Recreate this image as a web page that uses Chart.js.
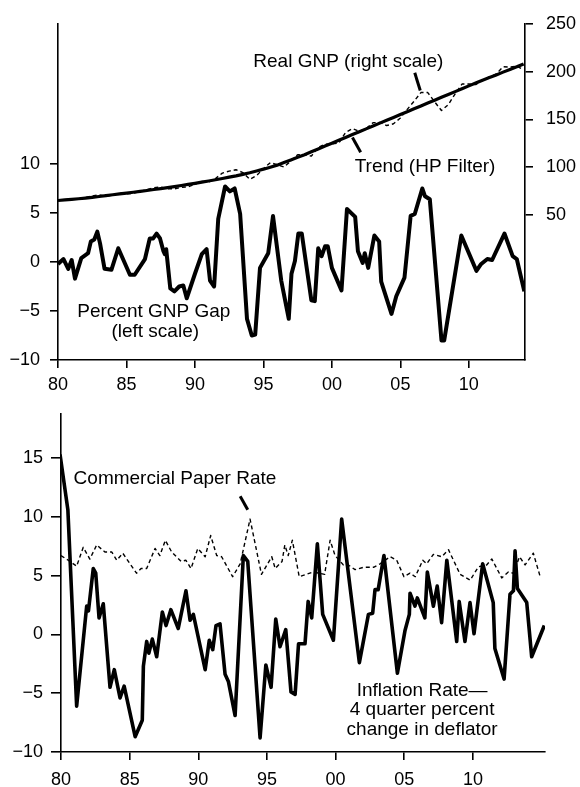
<!DOCTYPE html>
<html>
<head>
<meta charset="utf-8">
<script src="https://cdn.jsdelivr.net/npm/chart.js@4.4.0/dist/chart.umd.min.js"></script>
<style>
  body { margin: 0; background: #fff; width: 580px; height: 787px; overflow: hidden; position: relative; }
  canvas { position: absolute; left: 0; }
  #topChart { top: 0; }
  #bottomChart { top: 395px; }
</style>
</head>
<body>
<canvas id="topChart" width="580" height="395"></canvas>
<canvas id="bottomChart" width="580" height="392"></canvas>
<script>
// ---- data ----
const xTickYears = [1980, 1985, 1990, 1995, 2000, 2005, 2010];
const gapTicks = [-10, -5, 0, 5, 10];
const gnpTicks = [50, 100, 150, 200, 250];
const rateTicks = [-10, -5, 0, 5, 10, 15];

// percent GNP gap (left scale)
const gapYears = [1980.0, 1980.4, 1980.75, 1981.0, 1981.24, 1981.7, 1982.2, 1982.4, 1982.65, 1982.87,
  1983.07, 1983.4, 1983.9, 1984.4, 1985.25, 1985.6, 1986.35, 1986.7, 1986.95, 1987.2,
  1987.45, 1987.7, 1987.8, 1987.9, 1988.2, 1988.5, 1988.85, 1989.15, 1989.4, 1990.0,
  1990.5, 1990.85, 1991.1, 1991.4, 1991.7, 1992.2, 1992.55, 1992.9, 1993.3, 1993.8,
  1994.15, 1994.4, 1994.75, 1995.35, 1995.7, 1996.3, 1996.85, 1997.05, 1997.3, 1997.55,
  1997.8, 1998.5, 1998.75, 1999.0, 1999.25, 1999.5, 1999.7, 2000.0, 2000.7, 2001.1,
  2001.7, 2001.9, 2002.25, 2002.4, 2002.65, 2003.1, 2003.45, 2003.6, 2004.35, 2004.7,
  2005.3, 2005.75, 2006.05, 2006.6, 2006.8, 2007.15, 2008.0, 2008.2, 2009.45, 2010.55,
  2010.9, 2011.35, 2011.7, 2012.6, 2013.2, 2013.5, 2014.05];
const gapValues = [-0.2, 0.3, -0.7, 0.2, -1.7, 0.4, 0.9, 2.1, 2.3, 3.1,
  1.9, -0.7, -0.8, 1.4, -1.3, -1.3, 0.3, 2.4, 2.4, 2.9,
  2.4, 1.1, 0.8, 1.3, -2.7, -3.0, -2.5, -2.4, -3.7, -1.2,
  0.8, 1.3, -1.9, -2.5, 4.4, 7.7, 7.2, 7.5, 4.9, -5.8,
  -7.5, -7.4, -0.6, 0.9, 4.7, -1.9, -5.8, -1.2, 0.1, 2.9,
  2.9, -3.9, -4.0, 1.4, 0.6, 1.6, 1.6, -0.6, -2.9, 5.4,
  4.6, 1.1, -0.1, 0.9, -0.6, 2.7, 2.1, -2.0, -5.3, -3.5,
  -1.6, 4.7, 4.9, 7.5, 6.7, 6.4, -8.0, -8.0, 2.7, -0.9,
  -0.2, 0.3, 0.2, 2.9, 0.6, 0.3, -3.0];

// real GNP and HP trend (right scale), half-year points
const gnpYears = [1980, 1980.5, 1981, 1981.5, 1982, 1982.5, 1983, 1983.5, 1984, 1984.5,
  1985, 1985.5, 1986, 1986.5, 1987, 1987.5, 1988, 1988.5, 1989, 1989.5,
  1990, 1990.5, 1991, 1991.5, 1992, 1992.5, 1993, 1993.5, 1994, 1994.5,
  1995, 1995.5, 1996, 1996.5, 1997, 1997.5, 1998, 1998.5, 1999, 1999.5,
  2000, 2000.5, 2001, 2001.5, 2002, 2002.5, 2003, 2003.5, 2004, 2004.5,
  2005, 2005.5, 2006, 2006.5, 2007, 2007.5, 2008, 2008.5, 2009, 2009.5,
  2010, 2010.5, 2011, 2011.5, 2012, 2012.5, 2013, 2013.5, 2014];
const realGnp = [64.9, 65.7, 66.2, 66.9, 68, 69.8, 70.8, 69.6, 70.6, 72.8,
  72, 72.6, 74.3, 76.6, 78.4, 79.1, 77.3, 77.2, 78.8, 79.2,
  82, 84.9, 84.4, 88, 93.7, 95.8, 97.2, 94.2, 87.2, 91.1,
  98.4, 104.6, 102.5, 100.1, 106.3, 113, 113, 111.5, 120.7, 124,
  124.3, 125, 136.2, 140.2, 137.4, 140.3, 146.4, 146.7, 143.5, 145.3,
  151.4, 160.4, 168.9, 178, 178, 168.3, 159.2, 165.4, 176.7, 186.9,
  186.9, 186.3, 191, 194.3, 197.5, 205, 204.6, 205.6, 201.8];
const trendGnp = [65, 65.6, 66.2, 66.8, 67.5, 68.3, 69.2, 70.1, 71, 71.9,
  72.7, 73.6, 74.5, 75.5, 76.5, 77.5, 78.5, 79.6, 80.7, 81.8,
  83, 84.2, 85.4, 86.7, 88, 89.4, 90.8, 92.4, 94, 95.9,
  97.8, 99.9, 102, 104.7, 107.4, 110.2, 113, 116, 119, 122,
  125, 128, 131, 134, 137, 140, 143, 146, 149, 152,
  155, 158, 161, 164, 167, 170, 173, 176, 179, 182,
  185, 188, 191, 193.7, 196.5, 199.4, 202.2, 205, 208];

// inflation rate, 4 quarter percent change in deflator
const inflYears = [1979.93, 1980.5, 1981.14, 1981.87, 1982.0, 1982.35, 1982.53, 1982.77, 1983.08, 1983.57,
  1983.88, 1984.3, 1984.6, 1985.4, 1985.92, 1986.0, 1986.24, 1986.4, 1986.65, 1986.97,
  1987.38, 1987.65, 1988.0, 1988.54, 1989.1, 1989.4, 1989.64, 1990.5, 1990.8, 1991.05,
  1991.29, 1991.58, 1991.95, 1992.19, 1992.68, 1993.28, 1993.6, 1994.5, 1994.92, 1995.3,
  1995.64, 1995.95, 1996.37, 1996.75, 1997.05, 1997.3, 1997.77, 1998.0, 1998.26, 1998.67,
  1999.06, 1999.84, 2000.44, 2001.73, 2002.39, 2002.7, 2002.87, 2003.1, 2003.52, 2004.5,
  2005.05, 2005.37, 2005.42, 2005.78, 2005.95, 2006.5, 2006.68, 2007.12, 2007.4, 2007.72,
  2008.1, 2008.82, 2009.0, 2009.42, 2009.79, 2010.08, 2010.71, 2011.48, 2011.6, 2012.27,
  2012.7, 2012.95, 2013.07, 2013.24, 2013.92, 2014.28, 2015.2];
const inflation = [15.3, 10.6, -6.1, 2.4, 2.0, 5.6, 5.2, 1.4, 2.6, -4.5,
  -3.0, -5.4, -4.4, -8.7, -7.3, -2.7, -0.6, -1.6, -0.4, -1.9,
  1.9, 0.75, 2.1, 0.5, 3.7, 1.2, 1.7, -3.0, -0.5, -1.3,
  0.75, 0.9, -3.4, -4.0, -6.9, 6.7, 6.2, -8.8, -2.6, -4.5,
  1.3, -1.05, 0.4, -4.9, -5.1, -0.8, -0.8, 2.8, 1.4, 7.7,
  1.7, -0.5, 9.8, -2.4, 1.7, 1.8, 3.8, 3.8, 6.7, -3.3,
  0.3, 1.7, 3.5, 2.4, 3.1, 1.4, 5.3, 2.4, 4.1, 1.0,
  6.3, -0.6, 2.8, -0.6, 2.7, 0.05, 6.0, 2.7, -1.2, -3.8,
  3.4, 3.7, 7.1, 3.9, 2.7, -1.9, 0.75];

// commercial paper rate
const cpYears = [1980.0, 1980.53, 1981.14, 1981.62, 1982.1, 1982.6, 1983.2, 1983.7, 1984.06, 1984.5,
  1985.5, 1985.83, 1986.24, 1986.85, 1987.2, 1987.6, 1988.06, 1988.75, 1989.1, 1989.47,
  1989.96, 1990.5, 1990.9, 1991.34, 1991.7, 1992.5, 1993.05, 1993.77, 1994.6, 1995.35,
  1995.6, 1996.1, 1996.3, 1996.55, 1996.85, 1997.35, 1998.37, 1999.2, 1999.6, 1999.96,
  2000.57, 2000.93, 2001.42, 2002.03, 2002.76, 2003.24, 2003.97, 2004.45, 2004.98, 2005.42,
  2005.8, 2006.35, 2006.64, 2007.12, 2007.73, 2008.22, 2009.07, 2009.8, 2010.4, 2011.0,
  2011.38, 2012.1, 2012.58, 2012.95, 2013.39, 2013.8, 2014.4, 2014.9];
const cpRate = [6.7, 6.3, 5.8, 7.4, 6.4, 7.6, 7.0, 7.0, 6.3, 6.9,
  5.2, 5.6, 5.6, 7.3, 6.7, 8.0, 7.0, 6.2, 6.3, 5.6,
  7.3, 6.6, 8.4, 6.7, 6.6, 4.9, 6.0, 9.8, 5.1, 6.6,
  5.6, 6.2, 7.6, 6.7, 8.0, 4.9, 5.3, 5.1, 8.0, 6.7,
  5.9, 5.9, 5.5, 5.7, 5.7, 6.0, 6.6, 6.3, 4.9, 5.2,
  4.9, 6.3, 6.0, 6.8, 6.6, 7.2, 5.1, 4.6, 5.75, 5.9,
  6.4, 4.8, 5.3, 5.2, 6.6, 5.9, 6.9, 4.9];

// ---- helpers ----
const pairs = (xs, ys) => xs.map((x, i) => ({ x: x, y: ys[i] }));
const FONT = '"Liberation Sans", Arial, Helvetica, sans-serif';

Chart.defaults.font.family = FONT;
Chart.defaults.font.size = 18;
Chart.defaults.color = '#000';

function valueAxis(position, min, max, tickValues, width, tickLength, padding) {
  return {
    type: 'linear', position: position, min: min, max: max,
    afterBuildTicks: s => { s.ticks = tickValues.map(v => ({ value: v })); },
    afterFit: s => { s.width = width; },
    border: { display: true, color: '#000', width: 1.6 },
    grid: { drawOnChartArea: false, drawTicks: true, tickLength: tickLength, color: '#000', lineWidth: 1.6 },
    ticks: { color: '#000', padding: padding, font: { size: 18 },
      callback: v => String(v).replace('-', '\u2212') }
  };
}

function yearAxis(max, padding) {
  return {
    type: 'linear', min: 1980, max: max,
    afterBuildTicks: s => { s.ticks = xTickYears.map(v => ({ value: v })); },
    afterFit: s => { s.height = 35; },
    border: { display: true, color: '#000', width: 1.6 },
    grid: { drawOnChartArea: false, drawTicks: true, tickLength: 8, color: '#000', lineWidth: 1.6 },
    ticks: { color: '#000', padding: padding, maxRotation: 0, font: { size: 18 },
      callback: v => String(v).slice(2) }
  };
}

// text labels and little pointer strokes, placed in data units
const notesPlugin = {
  id: 'notes',
  afterDatasetsDraw(chart, args, opts) {
    const { ctx, scales } = chart;
    const px = v => scales.x.getPixelForValue(v);
    const py = v => scales.y.getPixelForValue(v);
    ctx.save();
    ctx.fillStyle = '#000';
    ctx.strokeStyle = '#000';
    ctx.font = '19px ' + FONT;
    ctx.textAlign = 'center';
    ctx.textBaseline = 'middle';
    (opts.texts || []).forEach(t => ctx.fillText(t.text, px(t.x), py(t.y)));
    ctx.lineWidth = 3;
    ctx.lineCap = 'butt';
    (opts.pointers || []).forEach(p => {
      ctx.beginPath();
      ctx.moveTo(px(p.x1), py(p.y1));
      ctx.lineTo(px(p.x2), py(p.y2));
      ctx.stroke();
    });
    ctx.restore();
  }
};

const lineBase = { pointRadius: 0, tension: 0, fill: false, borderColor: '#000', borderJoinStyle: 'round' };

// ---- top panel ----
new Chart(document.getElementById('topChart'), {
  type: 'line',
  data: {
    datasets: [
      Object.assign({ label: 'Real GNP', data: pairs(gnpYears, realGnp), yAxisID: 'yR',
        borderWidth: 1.4, borderDash: [4, 3] }, lineBase),
      Object.assign({ label: 'Trend', data: pairs(gnpYears, trendGnp), yAxisID: 'yR',
        borderWidth: 3.2 }, lineBase),
      Object.assign({ label: 'Percent GNP Gap', data: pairs(gapYears, gapValues), yAxisID: 'y',
        borderWidth: 4 }, lineBase)
    ]
  },
  options: {
    responsive: false,
    animation: false,
    layout: { padding: { top: 15, left: 0, right: 0, bottom: 0 } },
    scales: {
      x: yearAxis(2014.1, 6),
      y: valueAxis('left', -10, 24.3, gapTicks, 58, 8, 10),
      yR: valueAxis('right', -102, 250, gnpTicks, 55, 8, 13)
    },
    plugins: {
      legend: { display: false },
      tooltip: { enabled: false },
      notes: {
        texts: [
          { text: 'Real GNP (right scale)', x: 2001.2, y: 20.4 },
          { text: 'Trend (HP Filter)', x: 2006.8, y: 9.7 },
          { text: 'Percent GNP Gap', x: 1987.0, y: -5.1 },
          { text: '(left scale)', x: 1987.1, y: -7.1 }
        ],
        pointers: [
          { x1: 2006.05, y1: 19.3, x2: 2006.45, y2: 17.5 },
          { x1: 2001.5, y1: 12.7, x2: 2002.1, y2: 11.2 }
        ]
      }
    }
  },
  plugins: [notesPlugin]
});

// ---- bottom panel ----
new Chart(document.getElementById('bottomChart'), {
  type: 'line',
  data: {
    datasets: [
      Object.assign({ label: 'Commercial Paper Rate', data: pairs(cpYears, cpRate),
        borderWidth: 1.4, borderDash: [4, 3] }, lineBase),
      Object.assign({ label: 'Inflation Rate', data: pairs(inflYears, inflation),
        borderWidth: 3.6 }, lineBase)
    ]
  },
  options: {
    responsive: false,
    animation: false,
    layout: { padding: { top: 12, left: 0, right: 35, bottom: 0 } },
    scales: {
      x: yearAxis(2015.25, 9),
      y: valueAxis('left', -10, 18.75, rateTicks, 61, 10, 8)
    },
    plugins: {
      legend: { display: false },
      tooltip: { enabled: false },
      notes: {
        texts: [
          { text: 'Commercial Paper Rate', x: 1988.3, y: 13.2 },
          { text: 'Inflation Rate\u2014', x: 2006.3, y: -4.8 },
          { text: '4 quarter percent', x: 2006.3, y: -6.45 },
          { text: 'change in deflator', x: 2006.3, y: -8.1 }
        ],
        pointers: [
          { x1: 1993.05, y1: 11.75, x2: 1993.6, y2: 10.6 }
        ]
      }
    }
  },
  plugins: [notesPlugin]
});
</script>
</body>
</html>
